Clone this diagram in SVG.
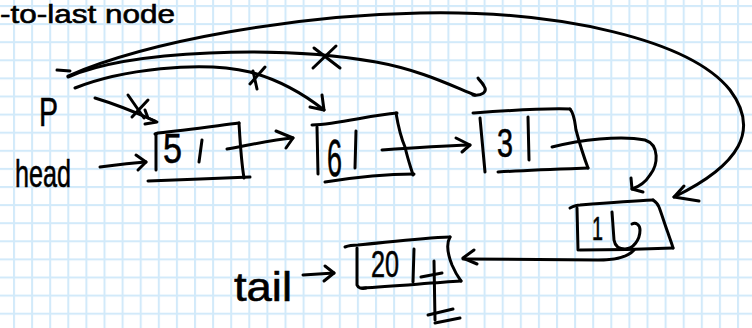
<svg xmlns="http://www.w3.org/2000/svg" width="752" height="328" viewBox="0 0 752 328">
  <style>
    .ink { fill: none; stroke: #000; stroke-width: 3; stroke-linecap: round; stroke-linejoin: round; }
    .hand { font-family: "Liberation Sans", "DejaVu Sans", sans-serif; fill: #000; stroke: #000; stroke-width: 0.6; }
  </style>
  <defs>
    <!-- light blue graph-paper grid -->
    <pattern id="grid" x="13" y="5" width="18.1" height="18.1" patternUnits="userSpaceOnUse">
      <rect x="0" y="0" width="18.1" height="18.1" fill="#fff"/>
      <rect x="0" y="0" width="2" height="18.1" fill="#d2eafa"/>
      <rect x="0" y="0" width="18.1" height="2" fill="#d2eafa"/>
    </pattern>
  </defs>

  <rect width="752" height="328" fill="url(#grid)"/>

  <!-- labels -->
  <g id="labels">
    <text class="hand" x="0" y="23" font-size="26" textLength="175" lengthAdjust="spacingAndGlyphs">-to-last node</text>
    <text class="hand" x="39" y="126" font-size="40" textLength="19" lengthAdjust="spacingAndGlyphs">P</text>
    <text class="hand" x="15" y="187" font-size="39" textLength="56" lengthAdjust="spacingAndGlyphs">head</text>
    <text class="hand" x="234" y="301" font-size="40" textLength="58" lengthAdjust="spacingAndGlyphs">tail</text>
  </g>

  <!-- node 5 -->
  <g id="node-5">
    <path class="ink" d="M155 134 L158 133 C185 130 215 126 239 123"/>
    <path class="ink" d="M239 123 C240 140 241 160 244 178"/>
    <path class="ink" d="M156 134 L156 170"/>
    <path class="ink" d="M148 181 C180 180 220 178 250 177"/>
    <path class="ink" d="M202 140 L199 162"/>
    <text class="hand" x="163" y="163" font-size="42" textLength="19" lengthAdjust="spacingAndGlyphs">5</text>
  </g>

  <!-- node 6 -->
  <g id="node-6">
    <path class="ink" d="M312 125 C340 124 370 115 397 113"/>
    <path class="ink" d="M396 113 C398 125 402 140 405 147 C408 160 411 168 413 175"/>
    <path class="ink" d="M317 127 L318 174"/>
    <path class="ink" d="M325 182 C350 178 385 174 414 174"/>
    <path class="ink" d="M356 131 L355 168"/>
    <text class="hand" x="327" y="176" font-size="52" textLength="15" lengthAdjust="spacingAndGlyphs">6</text>
  </g>

  <!-- node 3 -->
  <g id="node-3">
    <path class="ink" d="M473 113 C500 111 540 108 570 109"/>
    <path class="ink" d="M570 109 C575 115 575 125 576 130 C580 145 585 160 588 168"/>
    <path class="ink" d="M480 118 L485 172"/>
    <path class="ink" d="M498 172 C530 170 560 169 588 168"/>
    <path class="ink" d="M528 117 L529 160"/>
    <text class="hand" x="497" y="157" font-size="40" textLength="16" lengthAdjust="spacingAndGlyphs">3</text>
  </g>

  <!-- node 1 -->
  <g id="node-1">
    <path class="ink" d="M570 208 C574 206 577 205 580 205 C605 203 630 201 653 200"/>
    <path class="ink" d="M653 200 C656 202 658 204 659 207 C662 215 665 225 668 233 C670 239 672 244 673 248"/>
    <path class="ink" d="M577 208 L578 250"/>
    <path class="ink" d="M580 250 C615 250 650 249 673 248"/>
    <text class="hand" x="592" y="240" font-size="34" textLength="11" lengthAdjust="spacingAndGlyphs">1</text>
    <!-- divider curling into the pointer -->
    <path class="ink" d="M612 212 L614 240 C615 246 619 249 625 249 C633 249 640 240 640 230 C640 225 636 222 632 224"/>
  </g>

  <!-- node 20 -->
  <g id="node-20">
    <path class="ink" d="M345 247 C350 245 355 245 358 245 C390 242 420 238 450 237"/>
    <path class="ink" d="M450 237 C446 244 448 255 452 265 C455 272 458 277 461 281"/>
    <path class="ink" d="M357 248 L357 285 C358 288 362 289 366 288"/>
    <path class="ink" d="M362 288 C395 286 430 283 461 281"/>
    <path class="ink" d="M414 249 L413 282"/>
    <text class="hand" x="371" y="277" font-size="37" textLength="28" lengthAdjust="spacingAndGlyphs">20</text>
    <!-- null pointer -->
    <path class="ink" d="M434 261 L435 320"/>
    <path class="ink" d="M421 277 L442 273"/>
    <path class="ink" d="M428 315 L453 309"/>
    <path class="ink" d="M435 323 L460 318"/>
  </g>

  <!-- connectors -->
  <g id="connectors">
    <!-- head -> 5 -->
    <path class="ink" d="M100 167 C115 165 130 163 146 162"/>
    <path class="ink" d="M136 155 L146 162 L138 170"/>
    <!-- tail -> 20 -->
    <path class="ink" d="M303 275 L334 273"/>
    <path class="ink" d="M325 266 L334 273 L324 281"/>
    <!-- 5 -> 6 -->
    <path class="ink" d="M227 149 C245 146 270 140 293 138"/>
    <path class="ink" d="M276 131 L293 138 L286 148"/>
    <!-- 6 -> 3 -->
    <path class="ink" d="M382 150 C410 148 440 146 470 145"/>
    <path class="ink" d="M456 138 L470 145 L462 152"/>
    <!-- 3 -> 1 -->
    <path class="ink" d="M552 147 C580 140 620 135 645 140 C660 145 658 165 650 175 C645 183 638 187 632 189"/>
    <path class="ink" d="M631 178 L632 189 L643 192"/>
    <!-- 1 -> 20 -->
    <path class="ink" d="M634 250 C628 257 615 260 598 260 L463 259"/>
    <path class="ink" d="M474 250 L463 258 L477 264"/>

    <!-- P -> 5 (crossed out) -->
    <path class="ink" d="M95 98 C115 104 135 112 155 121"/>
    <path class="ink" d="M145 110 L148 118 L157 122 L145 124"/>
    <path class="ink" d="M128 95 L144 118"/>
    <path class="ink" d="M132 117 L148 100"/>

    <!-- P -> 6 (crossed out) -->
    <path class="ink" d="M75 88 C120 70 200 60 250 72 C280 80 305 95 324 110"/>
    <path class="ink" d="M310 107 L324 110 L322 95"/>
    <path class="ink" d="M250 84 L265 67"/>
    <path class="ink" d="M253 71 L257 89"/>

    <!-- P -> 3 (crossed out) -->
    <path class="ink" d="M57 70 L70 71"/>
    <path class="ink" d="M68 77 C130 50 280 45 376 62 C420 70 450 85 475 95"/>
    <path class="ink" d="M473 95 C482 96 488 92 484 86 C482 82 479 80 478 78"/>
    <path class="ink" d="M314 48 L340 68"/>
    <path class="ink" d="M313 68 L336 46"/>

    <!-- P -> 1 -->
    <path class="ink" d="M68 76 C150 40 300 15 420 13 C560 10 690 40 730 90 C760 130 740 165 674 197"/>
    <path class="ink" d="M684 186 L674 197 L699 201"/>
  </g>
</svg>
